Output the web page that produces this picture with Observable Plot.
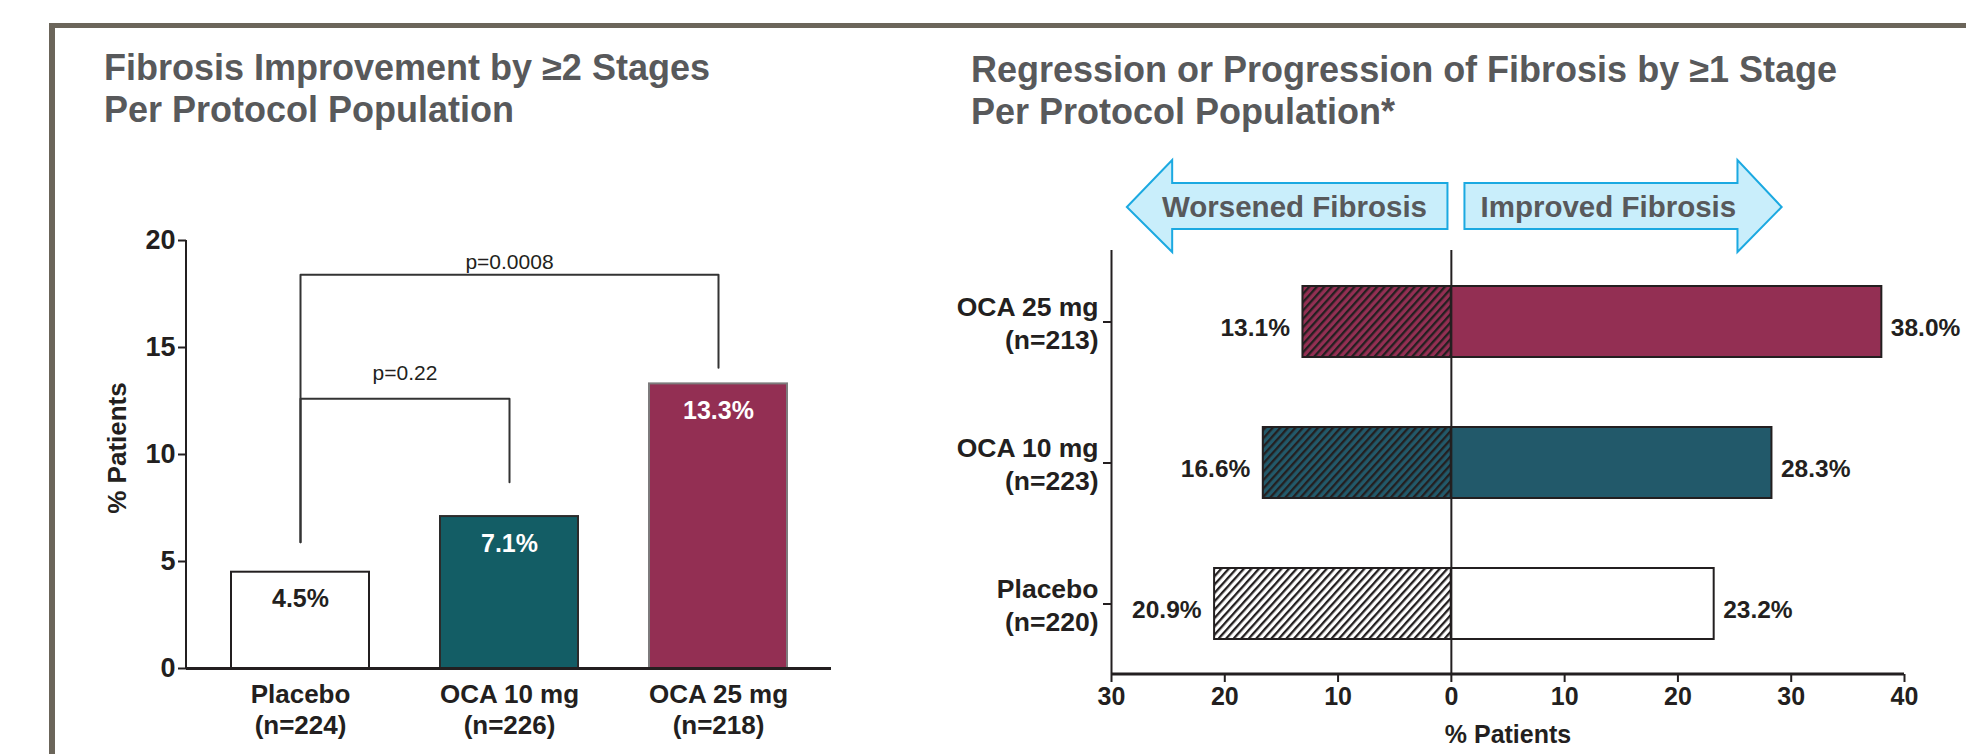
<!DOCTYPE html>
<html>
<head>
<meta charset="utf-8">
<script src="https://cdn.jsdelivr.net/npm/d3@7"></script>
<script src="https://cdn.jsdelivr.net/npm/@observablehq/plot@0.6"></script>
<style>
  html, body { margin: 0; padding: 0; background: #fff; }
  body { position: relative; width: 1966px; height: 754px; overflow: hidden;
         font-family: "Liberation Sans", Arial, Helvetica, sans-serif; }
  #frame { position: absolute; left: 49px; top: 23px; right: 0; bottom: 0;
           border-top: 5px solid #6b655a; border-left: 6px solid #6b655a; }
  .title { position: absolute; color: #58595b; font-weight: bold; font-size: 36px;
           line-height: 42px; white-space: nowrap; }
  .chart { position: absolute; }
  .chart svg { background: transparent !important; overflow: visible; }
</style>
</head>
<body>
<div id="frame"></div>
<div class="title" style="left:104px; top:47px;">Fibrosis Improvement by ≥2 Stages<br>Per Protocol Population</div>
<div class="title" style="left:971px; top:49px;">Regression or Progression of Fibrosis by ≥1 Stage<br>Per Protocol Population*</div>
<div class="chart" id="left" style="left:60px; top:200px; width:800px; height:554px;"></div>
<div class="chart" id="right" style="left:920px; top:140px; width:1046px; height:614px;"></div>

<script>
// ---- Fibrosis improvement by ≥2 stages ----
const armsLeft = ["Placebo", "OCA 10 mg", "OCA 25 mg"];
const nLeft = [224, 226, 218];
const improved2 = [4.5, 7.1, 13.3];
const yTicksLeft = [0, 5, 10, 15, 20];
const pValues = [
  {from: "Placebo", to: "OCA 10 mg", p: "p=0.22"},
  {from: "Placebo", to: "OCA 25 mg", p: "p=0.0008"}
];

// ---- Regression or progression of fibrosis by ≥1 stage ----
const armsRight = ["OCA 25 mg", "OCA 10 mg", "Placebo"];
const nRight = [213, 223, 220];
const worsened1 = [13.1, 16.6, 20.9];
const improved1 = [38.0, 28.3, 23.2];
const xTicksRight = [-30, -20, -10, 0, 10, 20, 30, 40];
const directionLabels = ["Worsened Fibrosis", "Improved Fibrosis"];

// Arm colours
const armColor = {"Placebo": "#ffffff", "OCA 10 mg": "#135d65", "OCA 25 mg": "#932f53"};
const armColorRight = {"Placebo": "#ffffff", "OCA 10 mg": "#22596a", "OCA 25 mg": "#932f53"};
const armEdge = {"Placebo": "#231f20", "OCA 10 mg": "#2b2b2b", "OCA 25 mg": "#7d7b7c"};
const armText = {"Placebo": "#231f20", "OCA 10 mg": "#ffffff", "OCA 25 mg": "#ffffff"};

const ink = "#231f20";
const fontFamily = "'Liberation Sans', Arial, Helvetica, sans-serif";

// ================= Left: grouped bars with significance brackets =================
const leftRows = armsLeft.map((arm, i) => ({
  arm, n: nLeft[i], value: improved2[i],
  fill: armColor[arm], edge: armEdge[arm], label: armText[arm]
}));

const W1 = 800, H1 = 554, mL1 = 126, mR1 = 29, mT1 = 40, mB1 = 86;
const padIn = 0.34, padOut = 0.213;
const step1 = (W1 - mL1 - mR1) / (armsLeft.length - padIn + 2 * padOut);

// bracket geometry (in % units): crossbar level, leg ends, label lift (px)
const bracketLayout = [
  {top: 12.6, fromEnd: 5.9, toEnd: 8.7, lift: 19},
  {top: 18.4, fromEnd: 5.9, toEnd: 14.05, lift: 6}
];
const bracketPts = pValues.flatMap((b, k) => {
  const L = bracketLayout[k];
  return [
    {id: k, x: b.from, y: L.fromEnd},
    {id: k, x: b.from, y: L.top},
    {id: k, x: b.to, y: L.top},
    {id: k, x: b.to, y: L.toEnd}
  ];
});

// y axis line from 0 up to the top tick
const leftAxisLine = (index, {y}, values, {marginLeft}) => {
  const g = d3.create("svg:g");
  g.append("line")
    .attr("x1", marginLeft).attr("x2", marginLeft)
    .attr("y1", y(yTicksLeft[yTicksLeft.length - 1])).attr("y2", y(0))
    .attr("stroke", ink).attr("stroke-width", 2);
  return g.node();
};

// rotated y axis title
const leftAxisTitle = (index, {y}, values, {marginLeft}) => {
  const cy = (y(0) + y(yTicksLeft[yTicksLeft.length - 1])) / 2 - 6;
  const g = d3.create("svg:g");
  g.append("text")
    .attr("transform", `translate(${marginLeft - 69},${cy}) rotate(-90)`)
    .attr("text-anchor", "middle").attr("dy", "0.35em")
    .attr("font-size", 26).attr("font-weight", "bold").attr("fill", ink)
    .text("% Patients");
  return g.node();
};

const pTextMarks = pValues.map((b, k) => {
  const span = armsLeft.indexOf(b.to) - armsLeft.indexOf(b.from);
  return Plot.text([b], {
    x: "from", y: () => bracketLayout[k].top, text: "p",
    dx: step1 * span / 2, dy: -bracketLayout[k].lift, lineAnchor: "bottom",
    fontSize: 21, fontWeight: "normal", fill: ink
  });
});

const leftPlot = Plot.plot({
  width: W1, height: H1,
  marginLeft: mL1, marginRight: mR1, marginTop: mT1, marginBottom: mB1,
  style: {fontFamily, fontWeight: "bold", color: ink, background: "transparent", overflow: "visible"},
  x: {domain: armsLeft, paddingInner: padIn, paddingOuter: padOut, axis: null},
  y: {domain: [0, 20]},
  color: {type: "identity"},
  marks: [
    Plot.barY(leftRows, {x: "arm", y: "value", fill: "fill", stroke: "edge", strokeWidth: 2}),
    Plot.ruleY([0], {stroke: ink, strokeWidth: 3}),
    leftAxisLine,
    Plot.axisY({ticks: yTicksLeft, tickSize: 8, tickPadding: 3, fontSize: 27,
                strokeWidth: 2, label: null, tickFormat: d => String(d)}),
    leftAxisTitle,
    Plot.text(leftRows, {x: "arm", y: "value", text: d => d.value.toFixed(1) + "%",
                dy: 27, fontSize: 25, fill: "label"}),
    Plot.line(bracketPts, {x: "x", y: "y", z: "id", stroke: "#333333", strokeWidth: 2}),
    ...pTextMarks,
    Plot.text(leftRows, {x: "arm", frameAnchor: "bottom", text: d => `${d.arm}\n(n=${d.n})`,
                lineAnchor: "top", dy: 12, fontSize: 26, lineHeight: 1.2, fill: ink})
  ]
});
document.getElementById("left").append(leftPlot);

// ================= Right: diverging bars (worsened vs improved) =================
const rightRows = armsRight.map((arm, i) => ({
  arm, n: nRight[i], worsened: worsened1[i], improved: improved1[i],
  fill: armColorRight[arm]
}));

const W2 = 1046, H2 = 614, mL2 = 191, mR2 = 62, mT2 = 110, mB2 = 80;

// diagonal hatch used for the "worsened" half of each bar
const hatchDefs = () => {
  const defs = d3.create("svg:defs");
  const p = defs.append("pattern")
    .attr("id", "hatch").attr("patternUnits", "userSpaceOnUse")
    .attr("width", 5.6).attr("height", 5.6)
    .attr("patternTransform", "rotate(42)");
  p.append("rect").attr("width", 2.3).attr("height", 5.6).attr("fill", ink);
  return defs.node();
};

// x axis baseline across the whole domain
const rightBaseline = (index, {x}, values, {height, marginBottom}) => {
  const g = d3.create("svg:g");
  g.append("line")
    .attr("x1", x(xTicksRight[0])).attr("x2", x(xTicksRight[xTicksRight.length - 1]))
    .attr("y1", height - marginBottom).attr("y2", height - marginBottom)
    .attr("stroke", ink).attr("stroke-width", 3);
  return g.node();
};

// direction arrows above the bars
const directionArrows = (index, {x}, values, {marginTop}) => {
  const g = d3.create("svg:g");
  const yHeadTop = marginTop - 90, yBoxTop = marginTop - 67, yMid = marginTop - 43,
        yBoxBot = marginTop - 21, yHeadBot = marginTop + 2;
  const shapes = [
    {inner: -0.3, base: -24.6, tip: -28.6, label: directionLabels[0], center: -13.8},
    {inner: 1.2, base: 25.3, tip: 29.2, label: directionLabels[1], center: 13.9}
  ];
  for (const s of shapes) {
    const path = d3.path();
    path.moveTo(x(s.inner), yBoxTop);
    path.lineTo(x(s.base), yBoxTop);
    path.lineTo(x(s.base), yHeadTop);
    path.lineTo(x(s.tip), yMid);
    path.lineTo(x(s.base), yHeadBot);
    path.lineTo(x(s.base), yBoxBot);
    path.lineTo(x(s.inner), yBoxBot);
    path.closePath();
    g.append("path").attr("d", path.toString())
      .attr("fill", "#c9eefb").attr("stroke", "#1ba9e1").attr("stroke-width", 2)
      .attr("stroke-linejoin", "miter");
    g.append("text").attr("x", x(s.center)).attr("y", marginTop - 33)
      .attr("text-anchor", "middle").attr("font-size", 29.5).attr("font-weight", "bold")
      .attr("fill", "#58595b").text(s.label);
  }
  return g.node();
};

const rightPlot = Plot.plot({
  width: W2, height: H2,
  marginLeft: mL2, marginRight: mR2, marginTop: mT2, marginBottom: mB2,
  style: {fontFamily, fontWeight: "bold", color: ink, background: "transparent", overflow: "visible"},
  x: {domain: [xTicksRight[0], xTicksRight[xTicksRight.length - 1]]},
  y: {domain: armsRight, paddingInner: 0.5, paddingOuter: 0.25},
  color: {type: "identity"},
  marks: [
    hatchDefs,
    directionArrows,
    Plot.barX(rightRows, {y: "arm", x1: 0, x2: d => -d.worsened, fill: "fill"}),
    Plot.barX(rightRows, {y: "arm", x1: 0, x2: d => -d.worsened, fill: "url(#hatch)",
                stroke: ink, strokeWidth: 2}),
    Plot.barX(rightRows, {y: "arm", x1: 0, x2: "improved", fill: "fill", stroke: ink, strokeWidth: 2}),
    Plot.ruleX([xTicksRight[0]], {stroke: ink, strokeWidth: 2}),
    Plot.ruleX([0], {stroke: ink, strokeWidth: 2}),
    rightBaseline,
    Plot.axisX({ticks: xTicksRight, tickFormat: d => String(Math.abs(d)), tickSize: 8,
                tickPadding: 5, fontSize: 25, strokeWidth: 2, label: null}),
    Plot.axisY({tickSize: 8, tickPadding: 5, fontSize: 26.5, strokeWidth: 2, label: null,
                lineHeight: 1.22,
                tickFormat: d => `${d}\n(n=${nRight[armsRight.indexOf(d)]})`}),
    Plot.text(rightRows, {y: "arm", x: d => -d.worsened, text: d => d.worsened.toFixed(1) + "%",
                textAnchor: "end", dx: -13, dy: 6, fontSize: 24.5, fill: ink}),
    Plot.text(rightRows, {y: "arm", x: "improved", text: d => d.improved.toFixed(1) + "%",
                textAnchor: "start", dx: 9, dy: 6, fontSize: 24.5, fill: ink}),
    Plot.text(["% Patients"], {text: d => d, frameAnchor: "bottom", dy: 68, fontSize: 25, fill: ink})
  ]
});
document.getElementById("right").append(rightPlot);
</script>
</body>
</html>
